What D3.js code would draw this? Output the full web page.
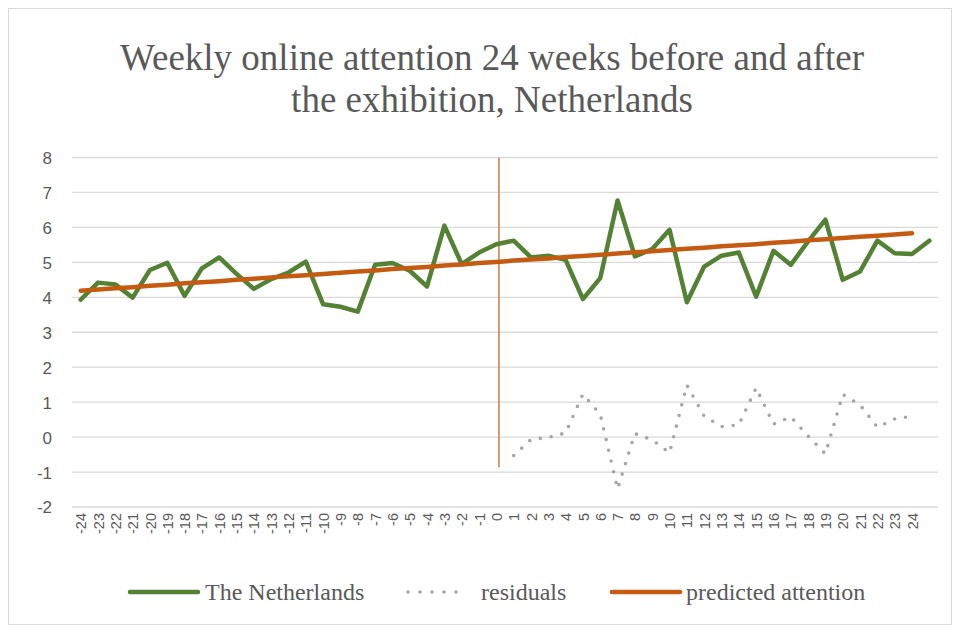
<!DOCTYPE html>
<html>
<head>
<meta charset="utf-8">
<script src="https://cdn.jsdelivr.net/npm/d3@7"></script>
<style>
  html, body { margin: 0; padding: 0; background: #ffffff; }
  svg { display: block; }
</style>
</head>
<body>
<svg id="chart" width="960" height="633"></svg>
<script>
// ---------------- DATA ----------------
const weeks = d3.range(-24, 26); // 50 categories, last one unlabeled
const tickLabels = d3.range(-24, 25).map(String).concat([""]);
const yTicks = [-2, -1, 0, 1, 2, 3, 4, 5, 6, 7, 8];

// The Netherlands (weeks -24 .. 25)
const netherlands = [
  3.93, 4.42, 4.37, 3.99, 4.78, 4.99, 4.04, 4.83, 5.14, 4.67,
  4.24, 4.52, 4.71, 5.02, 3.80, 3.73, 3.59, 4.93, 4.98, 4.76,
  4.31, 6.05, 4.95, 5.28, 5.52, 5.62, 5.14, 5.19, 5.07, 3.95,
  4.55, 6.77, 5.17, 5.38, 5.93, 3.86, 4.88, 5.19, 5.28, 4.02,
  5.33, 4.93, 5.60, 6.22, 4.50, 4.74, 5.62, 5.26, 5.24, 5.62
];
const netherlandsWeeks = d3.range(-24, 26);

// predicted attention (weeks -24 .. 24)
const predicted = [
  4.19, 4.22, 4.26, 4.29, 4.33, 4.36, 4.40, 4.43, 4.46, 4.50,
  4.53, 4.57, 4.60, 4.63, 4.67, 4.70, 4.74, 4.77, 4.81, 4.84,
  4.87, 4.91, 4.94, 4.98, 5.01, 5.05, 5.08, 5.11, 5.15, 5.18,
  5.22, 5.25, 5.29, 5.32, 5.35, 5.39, 5.42, 5.46, 5.49, 5.52,
  5.56, 5.59, 5.63, 5.66, 5.70, 5.73, 5.76, 5.80, 5.83
];
const predictedWeeks = d3.range(-24, 25);

// residuals (weeks 1 .. 24)
const residuals = [
  -0.53, -0.07, -0.01, 0.12, 1.23, 0.65, -1.48, 0.10, -0.08, -0.45,
  1.49, 0.60, 0.30, 0.35, 1.41, 0.37, 0.58, 0.03, -0.48, 1.22,
  0.92, 0.28, 0.52, 0.60
];
const residualWeeks = d3.range(1, 25);

// exhibition marker (vertical line)
const markerWeek = [0.15, 0.15];
const markerValues = [8, -0.86];

// ---------------- LAYOUT ----------------
const svg = d3.select("#chart");
const plot = { left: 72, right: 938, top: 157.5, bottom: 507 };
const textColor = "#595959";
const serif = "'Liberation Serif', 'Times New Roman', serif";
const sans = "'Liberation Sans', Arial, sans-serif";

// chart frame
svg.append("rect")
  .attr("x", 8.5).attr("y", 8.5)
  .attr("width", 943).attr("height", 616)
  .attr("fill", "#ffffff")
  .attr("stroke", "#d9d9d9").attr("stroke-width", 1);

const x = d3.scaleLinear().domain([-24.5, 25.5]).range([plot.left, plot.right]);
const y = d3.scaleLinear().domain([-2, 8]).range([plot.bottom, plot.top]);

// gridlines
svg.append("g").selectAll("line").data(yTicks).join("line")
  .attr("x1", plot.left).attr("x2", plot.right)
  .attr("y1", d => y(d)).attr("y2", d => y(d))
  .attr("stroke", "#d9d9d9").attr("stroke-width", 1.3);

// y axis labels
const yAxis = d3.axisLeft(y).tickValues(yTicks).tickFormat(d => String(d)).tickSize(0).tickPadding(0);
const gy = svg.append("g").attr("transform", `translate(${plot.left - 20},0)`).call(yAxis);
gy.select(".domain").remove();
gy.selectAll("text")
  .attr("fill", textColor).attr("font-family", sans).attr("font-size", 17)
  .attr("dy", "0.35em");

// x axis labels (rotated)
const xAxis = d3.axisBottom(x).tickValues(weeks).tickFormat((d, i) => tickLabels[i]).tickSize(0).tickPadding(0);
const gx = svg.append("g").attr("transform", `translate(0,${plot.bottom})`).call(xAxis);
gx.select(".domain").remove();
gx.selectAll("text")
  .attr("fill", textColor).attr("font-family", sans).attr("font-size", 14.5)
  .attr("text-anchor", "end")
  .attr("transform", "rotate(-90)")
  .attr("x", -6).attr("y", 0).attr("dy", "0.35em");

// vertical exhibition marker
svg.append("line")
  .attr("x1", x(markerWeek[0])).attr("x2", x(markerWeek[1]))
  .attr("y1", y(markerValues[0])).attr("y2", y(markerValues[1]))
  .attr("stroke", "#d07a3e").attr("stroke-width", 1.5);

const line = d3.line().x(d => x(d[0])).y(d => y(d[1]));

// residuals (dotted)
svg.append("path")
  .datum(residualWeeks.map((w, i) => [w, residuals[i]]))
  .attr("d", line)
  .attr("fill", "none")
  .attr("stroke", "#a5a5a5").attr("stroke-width", 3.6)
  .attr("stroke-linecap", "round")
  .attr("stroke-dasharray", "0 11");

// Netherlands
svg.append("path")
  .datum(netherlandsWeeks.map((w, i) => [w, netherlands[i]]))
  .attr("d", line)
  .attr("fill", "none")
  .attr("stroke", "#548235").attr("stroke-width", 4.5)
  .attr("stroke-linejoin", "round").attr("stroke-linecap", "round");

// predicted attention
svg.append("path")
  .datum(predictedWeeks.map((w, i) => [w, predicted[i]]))
  .attr("d", line)
  .attr("fill", "none")
  .attr("stroke", "#c55a11").attr("stroke-width", 4.5)
  .attr("stroke-linecap", "round");

// title
const title = svg.append("text")
  .attr("text-anchor", "middle")
  .attr("fill", textColor).attr("font-family", serif).attr("font-size", 37);
title.append("tspan").attr("x", 492).attr("y", 70).text("Weekly online attention 24 weeks before and after");
title.append("tspan").attr("x", 492).attr("y", 112).text("the exhibition, Netherlands");

// legend
const legendItems = [
  { name: "The Netherlands", color: "#548235", dotted: false, x1: 130, x2: 198, tx: 205 },
  { name: "residuals", color: "#a5a5a5", dotted: true, x1: 408, x2: 468, tx: 481 },
  { name: "predicted attention", color: "#c55a11", dotted: false, x1: 612, x2: 680, tx: 686 }
];
const legendY = 592;
const lg = svg.append("g");
legendItems.forEach(it => {
  const l = lg.append("line")
    .attr("x1", it.x1).attr("x2", it.x2).attr("y1", legendY).attr("y2", legendY)
    .attr("stroke", it.color).attr("stroke-linecap", "round");
  if (it.dotted) l.attr("stroke-width", 3.6).attr("stroke-dasharray", "0 12");
  else l.attr("stroke-width", 4.5);
  lg.append("text")
    .attr("x", it.tx).attr("y", legendY).attr("dy", "0.35em")
    .attr("fill", textColor).attr("font-family", serif).attr("font-size", 24)
    .text(it.name);
});
</script>
</body>
</html>
